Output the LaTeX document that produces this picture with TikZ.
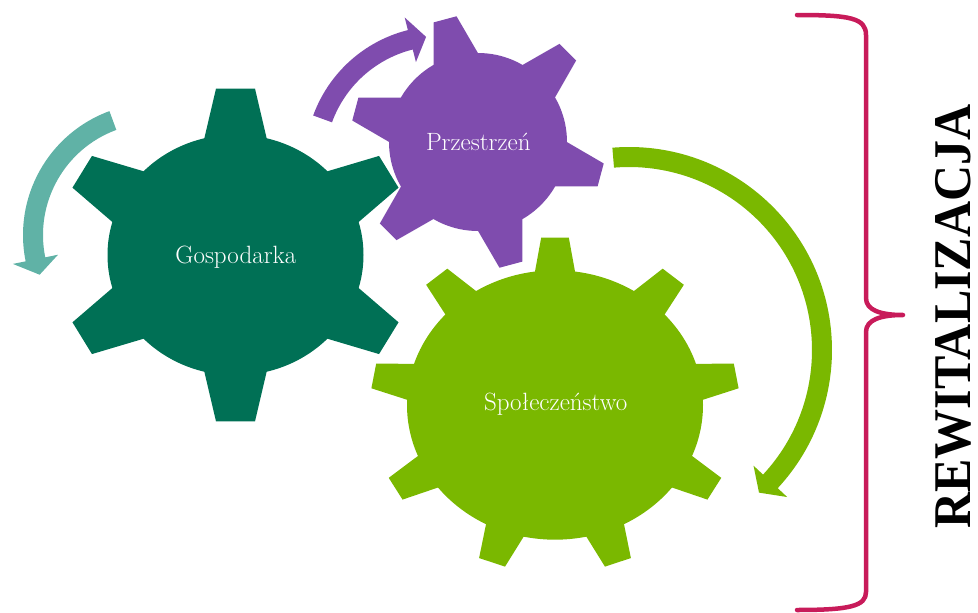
\documentclass[tikz,border=0pt]{standalone}
\usepackage{fontspec}
\usepackage{graphicx}
\newfontfamily\revfont{Liberation Serif}
\usetikzlibrary{calc}
\definecolor{gearA}{HTML}{007055}
\definecolor{gearB}{HTML}{7F4CAE}
\definecolor{gearC}{HTML}{7AB800}
\definecolor{arrowA}{HTML}{60B2A6}
\definecolor{braceC}{HTML}{C81B5A}
\newcommand\ringarrow[6]{%
  \pgfmathsetmacro\rOut{#2+10}%
  \pgfmathsetmacro\rIn{#2-10}%
  \pgfmathsetmacro\rHo{#2+23}%
  \pgfmathsetmacro\rHi{#2-23}%
  \fill[#6] ($(#1)+(#3:\rOut)$) arc[start angle=#3, end angle=#4, radius=\rOut]
    -- ($(#1)+(#4:\rHo)$) -- ($(#1)+(#5:#2)$) -- ($(#1)+(#4:\rHi)$)
    -- ($(#1)+(#4:\rIn)$) arc[start angle=#4, end angle=#3, radius=\rIn] -- cycle;}
\begin{document}
\begin{tikzpicture}[x=1pt, y=-1pt,
  gearlabel/.style={text=white, font=\fontsize{25}{30}\selectfont, anchor=base, inner sep=0pt},
  bracestyle/.style={draw=braceC, line width=4.5pt, line cap=round, line join=round}]
\useasboundingbox (0,0) rectangle (978,613);
\coordinate (G1) at (235.5,255);
\coordinate (G2) at (478,142);
\coordinate (G3) at (555,405);
\coordinate (T) at (155,235);
\coordinate (P) at (441,162);
\coordinate (Q) at (629,350);
% gear 1
\begin{scope}[shift={(G1)}, yscale=0.94]
  \fill[gearA] (0,0) circle[radius=128];
  \foreach \a in {30,90,...,330}
    \fill[gearA, rotate=\a] (100,-36.5) -- (177,-19.5) -- (177,19.5) -- (100,36.5) -- cycle;
\end{scope}
% gear 3
\begin{scope}[shift={(G3)}, yscale=0.91]
  \fill[gearC] (0,0) circle[radius=148];
  \foreach \a in {10,50,...,330}
    \fill[gearC, rotate=\a] (130,-22.8) -- (184,-13.8) -- (184,13.8) -- (130,22.8) -- cycle;
\end{scope}
% gear 2
\begin{scope}[shift={(G2)}]
  \fill[gearB] (0,0) circle[radius=89];
  \foreach \a in {45,105,...,345}
    \fill[gearB, rotate=\a] (70,-27.3) -- (127,-11.8) -- (127,11.8) -- (70,27.3) -- cycle;
\end{scope}
% arrows
\ringarrow{T}{122}{249.8}{168.5}{161}{arrowA}
\ringarrow{P}{126}{200}{255.9}{263.2}{gearB}
\ringarrow{Q}{193}{-94.7}{42.9}{47.65}{gearC}
% labels
\node[gearlabel] (gosp) at (235.8,263.3) {Gospodarka};
\node[gearlabel] (prz) at (478.3,150) {Przestrzeń};
\node[gearlabel] (spo) at (555.7,410) {Społeczeństwo};
% brace
\draw[bracestyle] (797,15) .. controls (850,15) and (866,18) .. (866,35)
  -- (866,298) .. controls (866,310) and (880,315) .. (903,315)
  .. controls (880,315) and (866,320) .. (866,332)
  -- (866,592) .. controls (866,606) and (850,610) .. (797,610);
\node[rotate=90, inner sep=0pt, font=\revfont\bfseries\fontsize{50}{60}\selectfont] (rev) at (953.5,316.5) {\scalebox{1}[1.06]{REWITALIZACJA}};
\end{tikzpicture}
\end{document}
